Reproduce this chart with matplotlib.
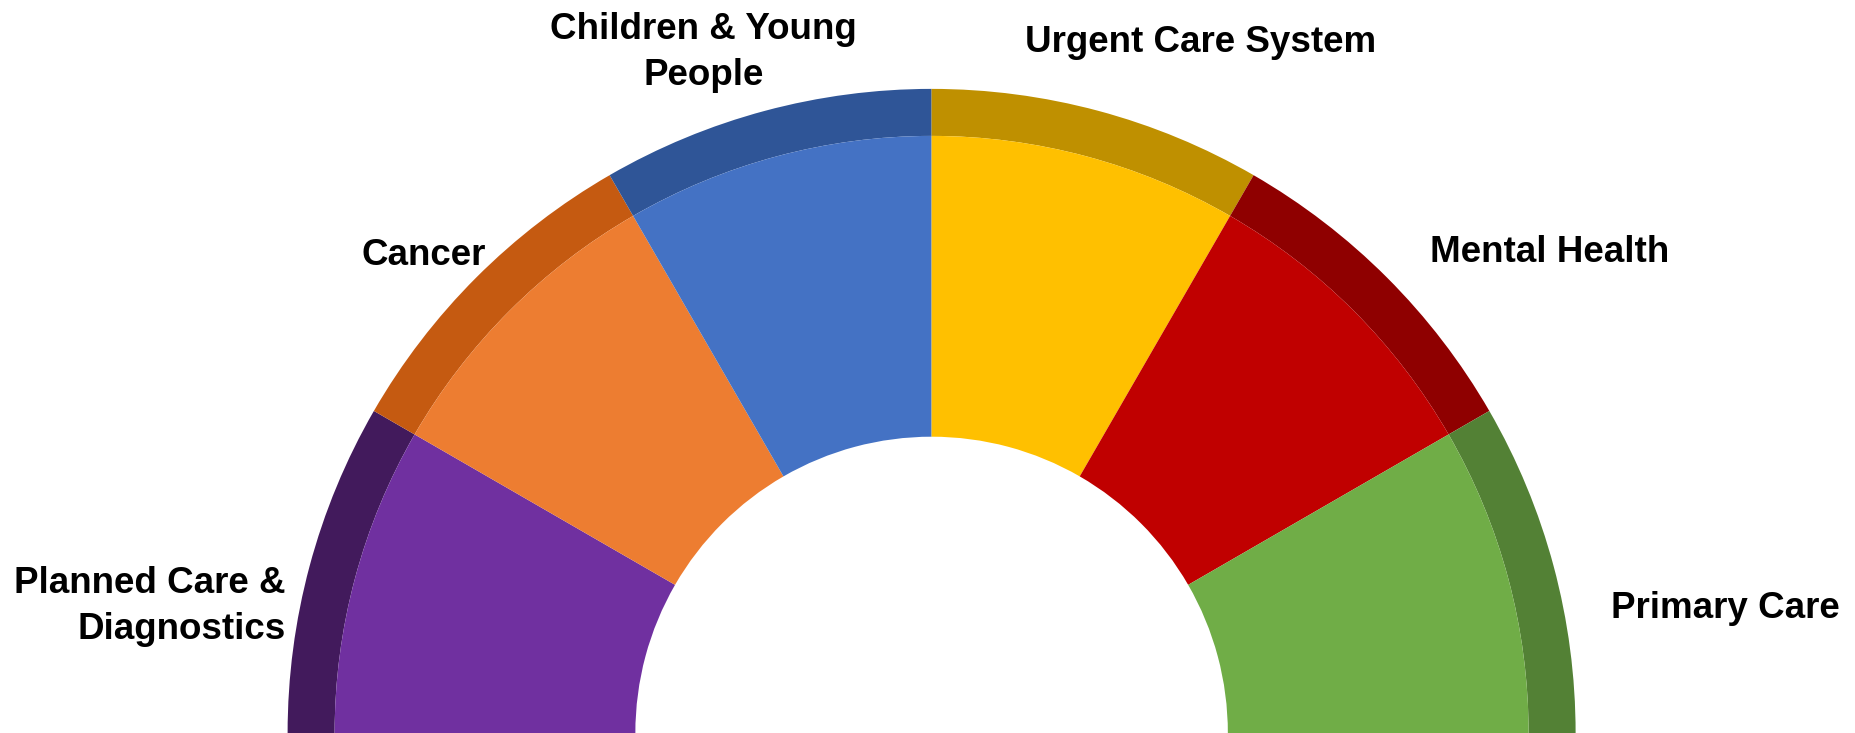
import matplotlib

matplotlib.use("Agg")
import matplotlib.pyplot as plt

# Programme areas, drawn clockwise from the left end of the arc
areas = [
    "Planned Care &\nDiagnostics",
    "Cancer",
    "Children & Young\nPeople",
    "Urgent Care System",
    "Mental Health",
    "Primary Care",
]
shares = [1, 1, 1, 1, 1, 1]

fill_colors = ["#7030A0", "#ED7D31", "#4472C4", "#FFC000", "#C00000", "#70AD47"]
rim_colors = ["#421A5C", "#C55A11", "#2F5597", "#BF9000", "#8F0000", "#538135"]

# label anchor (x, y) in axis units, horizontal alignment
label_pos = [
    (-1.003, 0.196, "right"),
    (-0.788, 0.741, "center"),
    (-0.354, 1.057, "center"),
    (0.417, 1.072, "center"),
    (0.959, 0.746, "center"),
    (1.232, 0.193, "center"),
]

R_OUT = 1.0
R_RIM = 0.927
R_HOLE = 0.46

fig = plt.figure(figsize=(18.56, 7.33), dpi=100, facecolor="white")
ax = fig.add_axes([0, 0, 1, 1])

# bottom half is a blank wedge so the visible arc covers 180 degrees
values = shares + [sum(shares)]
hidden = "none"

ax.pie(
    values,
    radius=R_OUT,
    startangle=180,
    counterclock=False,
    colors=rim_colors + [hidden],
    wedgeprops=dict(width=R_OUT - R_RIM, linewidth=0),
)
ax.pie(
    values,
    radius=R_RIM,
    startangle=180,
    counterclock=False,
    colors=fill_colors + [hidden],
    wedgeprops=dict(width=R_RIM - R_HOLE, linewidth=0),
)

for name, (x, y, ha) in zip(areas, label_pos):
    ax.text(
        x, y, name,
        ha=ha, va="center", multialignment=ha,
        fontsize=26.5, fontweight="bold", family="Liberation Sans", color="black",
        linespacing=1.42,
    )

ax.set_aspect("equal", adjustable="datalim")
ax.set_xlim(-1.4466, 1.4354)
ax.set_ylim(0.0, 1.138)
ax.axis("off")

fig.savefig("out.png", dpi=100, facecolor="white")
